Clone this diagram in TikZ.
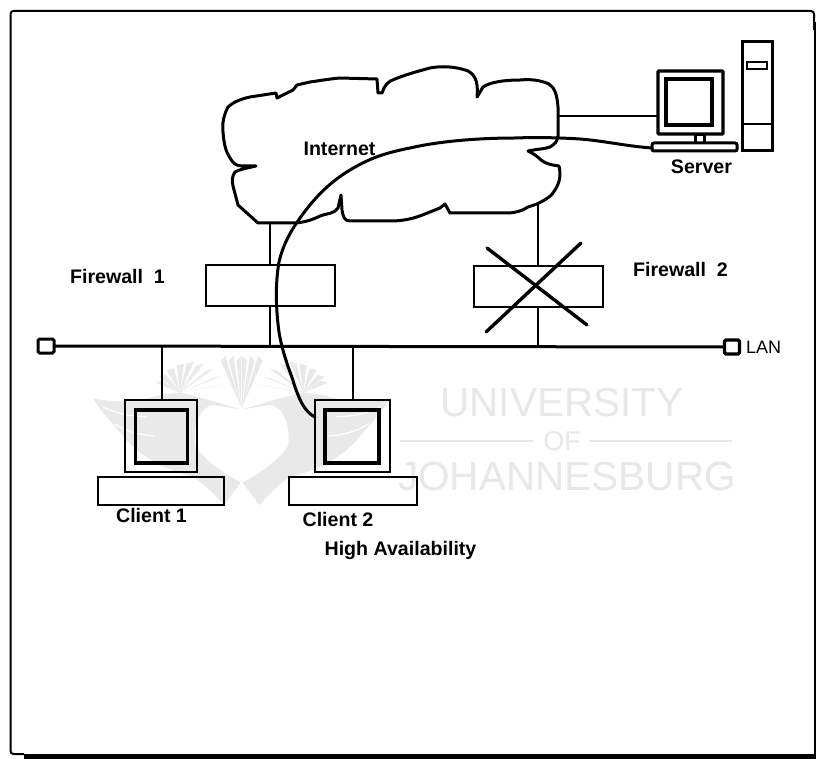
\documentclass[tikz,border=0pt]{standalone}
\usepackage{fontspec}
\setmainfont{Liberation Sans}
\tikzset{
  x=1pt,y=-1pt,
  ink/.style={draw=black,line width=3pt,line join=round,line cap=round},
  thinink/.style={draw=black,line width=2.3pt},
  boxn/.style={draw=black,line width=2.6pt,rectangle,inner sep=0pt,outer sep=0pt},
  lab/.style={font=\fontsize{19.6pt}{21pt}\bfseries\selectfont,inner sep=0pt,text=black},
  wm/.style={text=wmgray,inner sep=0pt,font=\fontsize{40.5pt}{42pt}\selectfont},
  birdfill/.style={fill=birdgray,draw=none},
}
\definecolor{wmgray}{gray}{0.91}
\definecolor{birdgray}{gray}{0.915}
\newcommand{\halfbird}{%
  \fill[birdfill] (40,145) .. controls (110,160) and (180,155) .. (240,135)
     -- (300,128) .. controls (340,135) and (420,160) .. (482,178)
     -- (400,165) .. controls (360,170) and (340,220) .. (345,285)
     .. controls (360,320) and (430,370) .. (482,398) -- (432,465)
     .. controls (400,430) and (370,400) .. (340,380)
     .. controls (270,365) and (190,330) .. (130,260)
     .. controls (100,220) and (60,185) .. (40,145) -- cycle;
  \draw[white,line width=1.2pt] (70,172) .. controls (110,190) and (150,200) .. (200,200);
  \draw[white,line width=1.2pt] (105,222) .. controls (140,245) and (180,255) .. (225,258);
  \foreach \a/\b in {226/98,236/80,260/60,290/46,320/40,350/46,378/62,400/84,412/108}
    \fill[birdfill] (300,128) -- (\a,\b) -- (\a+22,\b-5) -- cycle;
  \foreach \a in {422,446,470}
    \fill[birdfill] (484,172) -- (\a,32) -- (\a+14,18) -- cycle;
}
\begin{document}
\begin{tikzpicture}
\useasboundingbox (0,0) rectangle (816,759);
\fill[white] (0,0) rectangle (816,759);

% watermark
\begin{scope}[shift={(80,350)},x=0.3333pt,y=-0.3333pt]
  \halfbird
\end{scope}
\begin{scope}[shift={(403.33,350)},x=-0.3333pt,y=-0.3333pt]
  \halfbird
\end{scope}
\node[wm,anchor=center] (wmU) at (562,403) {UNIVERSITY};
\node[wm,anchor=center,font=\fontsize{27pt}{28pt}\selectfont] (wmO) at (562,441) {OF};
\node[wm,anchor=center] (wmJ) at (567,477) {JOHANNESBURG};
\draw[wmgray,line width=2pt] (wmO.west) ++(-10,0) -- ++(-133,0);
\draw[wmgray,line width=2pt] (wmO.east) ++(8,0) -- ++(143,0);

% frame
\coordinate (fTL) at (10.5,11);
\coordinate (fTR) at (814,11);
\coordinate (fBL) at (10.5,754);
\draw[black,line width=2pt,rounded corners=3pt] (fBL -| 24,0) -- (fBL) -- (fTL) -- (fTR) -- (fTR |- 0,30);
\fill[black] (24,754) rectangle (816,759);
\fill[black] (813.5,22) rectangle (816,759);

% cloud
\draw[ink] (258,223) -- (296,223)
  .. controls (305,222) and (312,220) .. (320,216)
  .. controls (328,213) and (334,214) .. (338,208)
  -- (341,195) -- (342,210)
  .. controls (343,216) and (344,221) .. (350,221)
  -- (390,221) .. controls (405,221) and (415,218) .. (425,214)
  -- (440,208) -- (445,204) -- (450,213) -- (507,213)
  .. controls (515,213) and (522,211) .. (528,207)
  -- (537,204) .. controls (545,200) and (552,196) .. (555,190)
  .. controls (560,182) and (561,175) .. (559,166)
  .. controls (552,165) and (546,164) .. (541,160)
  .. controls (537,156) and (534,154) .. (528,151)
  .. controls (537,149) and (545,149) .. (550,147)
  .. controls (555,144) and (557,142) .. (558,136)
  -- (558,107) .. controls (557,95) and (555,88) .. (549,84)
  .. controls (540,80) and (530,79) .. (520,80)
  .. controls (505,80) and (490,82) .. (483,87)
  -- (477,97) .. controls (478,85) and (477,76) .. (468,71)
  .. controls (455,66) and (440,66) .. (430,68)
  .. controls (415,72) and (405,75) .. (395,79)
  .. controls (388,81) and (384,86) .. (382,93)
  -- (378,93) -- (377,79)
  -- (340,78) .. controls (328,79) and (318,81) .. (310,82)
  -- (297,85) -- (293,90) -- (277,98) -- (276,93)
  -- (250,97) .. controls (240,99) and (232,103) .. (228,107)
  .. controls (224,115) and (222,122) .. (223,132)
  .. controls (224,145) and (226,152) .. (230,158)
  .. controls (233,163) and (236,166) .. (242,166)
  -- (256,166) .. controls (248,168) and (240,169) .. (235,172)
  .. controls (232,176) and (232,180) .. (233,186)
  -- (238,205) -- cycle;

% firewalls
\node[boxn,minimum width=129pt,minimum height=41pt] (fw1) at (270.5,285.5) {};
\node[boxn,minimum width=129pt,minimum height=41pt] (fw2) at (538.5,286.5) {};
\coordinate (cloudA) at (270,223);
\coordinate (cloudB) at (538,204);
\coordinate (cloudC) at (558,116);
\coordinate (cr1a) at (487,248); \coordinate (cr1b) at (587,325);
\coordinate (cr2a) at (581,243); \coordinate (cr2b) at (486,332);
\draw[ink,line width=3.4pt] (cr1a) -- (cr1b);
\draw[ink,line width=3.4pt] (cr2a) -- (cr2b);

% LAN bus
\node[boxn,rounded corners=1.5pt,minimum width=16pt,minimum height=14pt,line width=3pt] (lanL) at (46,346) {};
\node[boxn,rounded corners=1.5pt,minimum width=15pt,minimum height=14pt,line width=3.2pt] (lanR) at (732,347) {};
\draw[ink] (lanL.east) -- (lanR.west);
\coordinate (bus1) at (270,346.5);
\coordinate (bus2) at (538,346.5);
\coordinate (bus3) at (162,346.5);
\coordinate (bus4) at (353,346.5);
\draw[thinink] (cloudA) -- (fw1.north -| cloudA);
\draw[thinink] (fw1.south -| cloudA) -- (bus1);
\draw[thinink] (cloudB) -- (fw2.north -| cloudB);
\draw[thinink] (fw2.south -| cloudB) -- (bus2);

% clients
\node[boxn,minimum width=72pt,minimum height=72pt] (m1) at (161,436) {};
\node[boxn,minimum width=52pt,minimum height=53pt,line width=3.4pt] (s1) at (161.5,436.5) {};
\node[boxn,minimum width=126pt,minimum height=28pt] (k1) at (161,491) {};
\node[boxn,minimum width=75pt,minimum height=72pt] (m2) at (352.5,436) {};
\node[boxn,minimum width=54pt,minimum height=53pt,line width=3.4pt] (s2) at (352,436.5) {};
\node[boxn,minimum width=128pt,minimum height=28pt] (k2) at (353,491) {};
\draw[thinink] (bus3) -- (m1.north -| bus3);
\draw[thinink] (bus4) -- (m2.north -| bus4);

% server
\node[boxn,minimum width=65pt,minimum height=63pt,line width=3.4pt,rounded corners=1pt] (sm) at (690.5,102.5) {};
\node[boxn,minimum width=46pt,minimum height=46pt,line width=3.4pt] (ss) at (689,102) {};
\node[boxn,minimum width=9pt,minimum height=8pt] (st) at (700,139) {};
\node[boxn,minimum width=85pt,minimum height=8pt,rounded corners=2pt,line width=3pt] (sk) at (694.5,147) {};
\node[boxn,minimum width=30pt,minimum height=109pt,line width=3pt] (tw) at (757,96.5) {};
\node[boxn,minimum width=20pt,minimum height=7pt] (sl) at (757,65.5) {};
\draw[black,line width=2.6pt] (tw.west |- 0,124) -- (tw.east |- 0,124);
\draw[thinink,line width=2.6pt] (cloudC) -- (sm.west |- cloudC);

% connection curve
\draw[ink] (m2.west |- 0,417)
  .. controls (300,410) and (295,385) .. (290,372)
  .. controls (285,358) and (281,345) .. (279,332)
  .. controls (276,310) and (275,285) .. (279,262)
  .. controls (283,245) and (290,232) .. (300,218)
  .. controls (315,197) and (330,182) .. (350,170)
  .. controls (370,158) and (385,153) .. (410,148)
  .. controls (440,141) and (480,138) .. (515,138)
  .. controls (540,137) and (565,138) .. (580,139)
  .. controls (605,141) and (625,146) .. (652,148);

% labels
\node[lab,anchor=center] (tInternet) at (339.5,148.5) {Internet};
\node[lab,anchor=center] (tServer) at (701.5,167) {Server};
\node[lab,anchor=center] (tF1) at (117.5,276) {Firewall\ \ 1};
\node[lab,anchor=center] (tF2) at (680.5,269) {Firewall\ \ 2};
\node[anchor=west,inner sep=0pt,font=\fontsize{18pt}{20pt}\selectfont] (tLAN) at (746,347) {LAN};
\node[lab,anchor=center] (tC1) at (151.5,515) {Client 1};
\node[lab,anchor=center] (tC2) at (338,519.5) {Client 2};
\node[lab,anchor=center] (tHA) at (400.5,550) {High Availability};
\end{tikzpicture}
\end{document}
